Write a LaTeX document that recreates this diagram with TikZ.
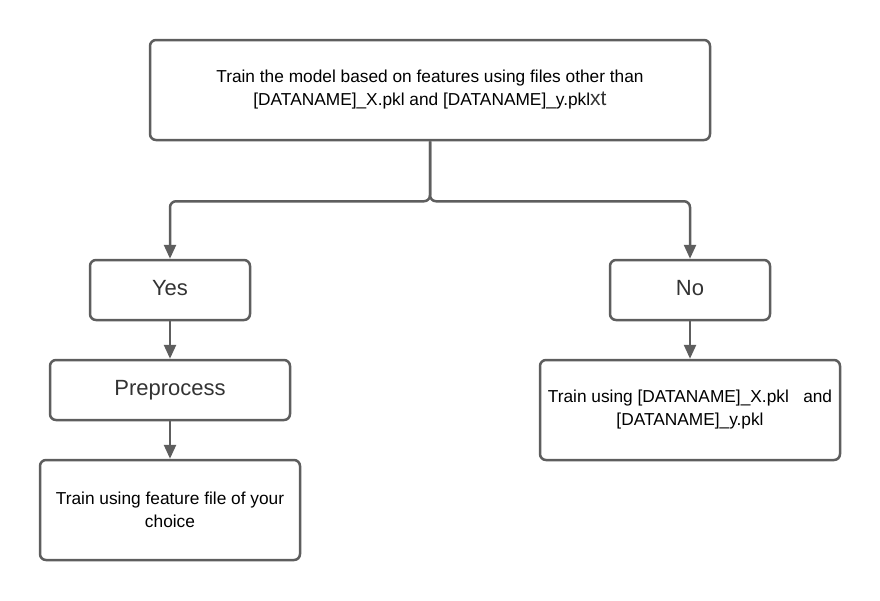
\documentclass[tikz,border=0pt]{standalone}
\usepackage{fontspec}
\setmainfont{Liberation Sans}
\usetikzlibrary{arrows.meta}
\definecolor{linegray}{HTML}{5E5E5E}
\definecolor{labelgray}{HTML}{333333}
\tikzset{
    box/.style={draw=linegray, line width=2.5pt, rounded corners=6pt, align=center, inner sep=0pt},
    bigtext/.style={text=labelgray, font=\fontsize{22}{25}\selectfont, text depth=4.6pt},
    smalltext/.style={text=black, font=\fontsize{17.3}{23}\selectfont},
    conn/.style={draw=linegray, line width=2.5pt, -{Triangle[length=14pt,width=12pt]}}
}
\begin{document}
\begin{tikzpicture}[x=1pt,y=1pt]
        \useasboundingbox (0,0) rectangle (880,-600);

        \node[box, smalltext, minimum width=560pt, minimum height=100pt] at (430,-90) (top)
            {Train the model based on features using files other than\\
             {[}DATANAME{]}\_X.pkl and [DATANAME]\_y.pkl{\color{labelgray}\fontsize{21}{23}\selectfont xt}};
        \node[box, bigtext, minimum width=160pt, minimum height=60pt] at (170,-290) (yes) {Yes};
        \node[box, bigtext, minimum width=160pt, minimum height=60pt] at (690,-290) (no) {No};
        \node[box, bigtext, minimum width=240pt, minimum height=60pt] at (170,-390) (pre) {Preprocess};
        \node[box, smalltext, minimum width=260pt, minimum height=100pt] at (170,-510) (trainown)
            {Train using feature file of your\\choice};
        \node[box, smalltext, minimum width=300pt, minimum height=100pt] at (690,-410) (trainpkl)
            {Train using [DATANAME]\_X.pkl\ \ \ and\\{[}DATANAME{]}\_y.pkl};

        \draw[conn, rounded corners=6pt] (top.south) -- ++(0,-60) -| (yes.north);
        \draw[conn, rounded corners=6pt] (top.south) -- ++(0,-60) -| (no.north);
        \draw[conn] (yes) -- (pre);
        \draw[conn] (pre) -- (trainown);
        \draw[conn] (no) -- (trainpkl);

    \end{tikzpicture}
\end{document}
